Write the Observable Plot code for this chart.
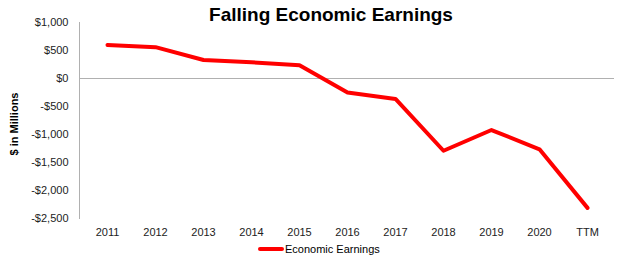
<!DOCTYPE html>
<html>
<head>
<meta charset="utf-8">
<script src="https://cdn.jsdelivr.net/npm/d3@7"></script>
<script src="https://cdn.jsdelivr.net/npm/@observablehq/plot@0.6"></script>
<style>
  body { margin: 0; background: #fff; font-family: "Liberation Sans", Arial, sans-serif; }
  #wrap { position: relative; width: 630px; height: 262px; overflow: hidden; }
  #title { position: absolute; top: 4px; left: 0; width: 662px; text-align: center; font-weight: bold; font-size: 19px; color: #000; }
  #ylab { position: absolute; left: 14px; top: 124px; transform: translate(-50%, -50%) rotate(-90deg); font-weight: bold; font-size: 11px; white-space: nowrap; color: #000; }
  #legend { position: absolute; top: 243px; left: 258px; font-size: 11px; display: flex; align-items: center; color: #000; }
  #legend .sw { width: 26px; height: 4px; background: #ff0000; border-radius: 2px; margin-right: 1px; }
  #chart { position: absolute; top: 0; left: 0; }
</style>
</head>
<body>
<div id="wrap">
  <div id="chart"></div>
  <div id="title">Falling Economic Earnings</div>
  <div id="ylab">$ in Millions</div>
  <div id="legend"><span class="sw"></span><span>Economic Earnings</span></div>
</div>
<script>
const categories = ["2011","2012","2013","2014","2015","2016","2017","2018","2019","2020","TTM"];
const earnings = [600, 560, 330, 290, 235, -250, -365, -1290, -920, -1265, -2310];
const yTicks = [1000, 500, 0, -500, -1000, -1500, -2000, -2500];

const data = categories.map((c, i) => ({period: c, value: earnings[i]}));
const fmt = d3.format(",");
const money = d => (d < 0 ? "-$" : "$") + fmt(Math.abs(d));

const chart = Plot.plot({
  width: 630,
  height: 262,
  marginLeft: 79,
  marginRight: 16,
  marginTop: 22,
  marginBottom: 44,
  style: {fontFamily: "'Liberation Sans', Arial, sans-serif", fontSize: "11px", color: "#222", background: "#fff"},
  x: {type: "point", domain: categories, padding: 0.5},
  y: {domain: [-2500, 1000]},
  marks: [
    Plot.frame({anchor: "left", stroke: "#b0b0b0"}),
    Plot.ruleY([0], {stroke: "#b0b0b0", strokeWidth: 1}),
    Plot.axisY({ticks: yTicks, tickFormat: money, tickSize: 0, tickPadding: 11, label: null, fontSize: 11}),
    Plot.axisX({tickSize: 0, tickPadding: 10, label: null, fontSize: 11}),
    Plot.line(data, {x: "period", y: "value", stroke: "#ff0000", strokeWidth: 4, strokeLinejoin: "round", strokeLinecap: "round"})
  ]
});
document.getElementById("chart").appendChild(chart);
</script>
</body>
</html>
